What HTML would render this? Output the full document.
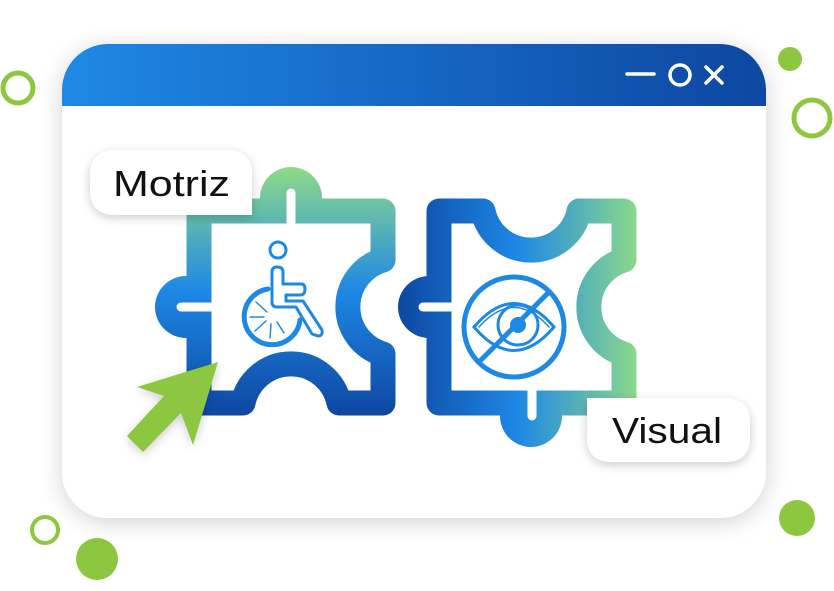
<!DOCTYPE html>
<html><head><meta charset="utf-8"><style>
html,body{margin:0;padding:0;background:#fff;width:834px;height:591px;overflow:hidden;font-family:"Liberation Sans",sans-serif}
</style></head><body>
<svg width="834" height="591" viewBox="0 0 834 591" xmlns="http://www.w3.org/2000/svg">
<defs>
<filter id="sh" x="-20%" y="-20%" width="140%" height="140%"><feGaussianBlur in="SourceAlpha" stdDeviation="12"/><feOffset dx="0" dy="4"/><feComponentTransfer><feFuncA type="linear" slope="0.18"/></feComponentTransfer><feMerge><feMergeNode/><feMergeNode in="SourceGraphic"/></feMerge></filter>
<filter id="sh2" x="-30%" y="-30%" width="160%" height="160%"><feGaussianBlur in="SourceAlpha" stdDeviation="5"/><feOffset dx="0" dy="3"/><feComponentTransfer><feFuncA type="linear" slope="0.2"/></feComponentTransfer><feMerge><feMergeNode/><feMergeNode in="SourceGraphic"/></feMerge></filter>
<linearGradient id="tb" x1="0" x2="1" y1="0" y2="0"><stop offset="0" stop-color="#1e88e5"/><stop offset="1" stop-color="#0d47a1"/></linearGradient>
<linearGradient id="gl" gradientUnits="userSpaceOnUse" x1="0" y1="167" x2="0" y2="415"><stop offset="0" stop-color="#8edb88"/><stop offset="0.5" stop-color="#1e88e5"/><stop offset="1" stop-color="#0d47a1"/></linearGradient>
<linearGradient id="gr" gradientUnits="userSpaceOnUse" x1="397" y1="0" x2="640" y2="0"><stop offset="0" stop-color="#0d47a1"/><stop offset="0.5" stop-color="#1e88e5"/><stop offset="1" stop-color="#8edb88"/></linearGradient>
<clipPath id="win"><rect x="62" y="44" width="704" height="474" rx="46"/></clipPath>
</defs>

<circle cx="18" cy="88" r="15" fill="none" stroke="#8dc63f" stroke-width="5"/>
<circle cx="790" cy="59" r="12" fill="#8dc63f"/>
<circle cx="812" cy="118" r="18" fill="none" stroke="#8dc63f" stroke-width="5"/>
<circle cx="45" cy="530" r="13" fill="none" stroke="#8dc63f" stroke-width="4"/>
<circle cx="97" cy="559" r="21" fill="#8dc63f"/>
<circle cx="797" cy="518" r="18" fill="#8dc63f"/>

<rect x="62" y="44" width="704" height="474" rx="46" fill="#fff" filter="url(#sh)"/>
<rect x="62" y="44" width="704" height="62" fill="url(#tb)" clip-path="url(#win)"/>
<line x1="627" y1="74" x2="654" y2="74" stroke="#fff" stroke-width="3.5" stroke-linecap="round"/>
<circle cx="680" cy="75" r="10" fill="none" stroke="#fff" stroke-width="3.5"/>
<path d="M706,67 L722,83 M722,67 L706,83" stroke="#fff" stroke-width="3.5" stroke-linecap="round"/>

<!-- left puzzle -->
<circle cx="291" cy="198" r="31" fill="url(#gl)"/>
<circle cx="186" cy="307" r="31" fill="url(#gl)"/>
<path d="M199,211 H383 V260 A49 49 0 0 0 383,354 V403 H339 A49 49 0 0 0 243,403 H199 Z" fill="#fff" stroke="url(#gl)" stroke-width="25" stroke-linejoin="round"/>
<line x1="291" y1="193" x2="291" y2="224" stroke="#fff" stroke-width="9" stroke-linecap="round"/>
<line x1="181" y1="307" x2="211" y2="307" stroke="#fff" stroke-width="9" stroke-linecap="round"/>

<!-- wheelchair -->
<g fill="none" stroke="#1e88e5" stroke-width="3" stroke-linejoin="round" stroke-linecap="round">
<circle cx="278" cy="250" r="8"/>
<path d="M272,300 V272 Q272,267 277,267 Q283,267 283,272 V284 H301 Q305,284 305,289 Q305,295 300,295 H286 V301 H303 L322,330 Q323,336 318,336 L312,334 L296,307 H277 Q272,307 272,302 Z"/>
<path d="M268,289 A28 28 0 1 0 300,320" stroke-width="5"/>
<path d="M256,302 L267,312 M250,317 L264,317 M255,331 L266,321 M270,338 L271,324 M284,333 L277,322" stroke-width="1.5"/>
</g>

<!-- right puzzle -->
<circle cx="429" cy="307" r="31" fill="url(#gr)"/>
<circle cx="531" cy="416" r="31" fill="url(#gr)"/>
<path d="M439,211 H483 A49 49 0 0 0 579,211 H624 V260 A49 49 0 0 0 624,354 V403 H439 Z" fill="#fff" stroke="url(#gr)" stroke-width="25" stroke-linejoin="round"/>
<line x1="423" y1="307" x2="451" y2="307" stroke="#fff" stroke-width="9" stroke-linecap="round"/>
<line x1="532" y1="390" x2="532" y2="416" stroke="#fff" stroke-width="9" stroke-linecap="round"/>

<!-- eye icon -->
<g fill="none" stroke="#1e88e5" stroke-linecap="round">
<circle cx="514" cy="327" r="50" stroke-width="5"/>
<path d="M474,327 Q514,280 554,327 Q514,374 474,327 Z" stroke-width="3"/>
<path d="M479,327 Q514,288 549,327" stroke-width="1.5"/>
<circle cx="518" cy="325" r="20" stroke-width="3"/>
<circle cx="518" cy="325" r="8" fill="#1e88e5" stroke="none"/>
<line x1="480" y1="361" x2="548" y2="293" stroke-width="5"/>
</g>

<g filter="url(#sh2)">
<path d="M116,150 H227 Q252,150 252,175 V215 H116 Q90,215 90,190 V176 Q90,150 116,150 Z" fill="#fff"/>
<path d="M612,398 H725 Q750,398 750,423 V437 Q750,462 725,462 H612 Q587,462 587,437 V398 Z" fill="#fff"/>
</g>
<text x="113" y="196" font-family="Liberation Sans, sans-serif" font-size="36" fill="#111" textLength="117" lengthAdjust="spacingAndGlyphs">Motriz</text>
<text x="612" y="443" font-family="Liberation Sans, sans-serif" font-size="36" fill="#111" textLength="110" lengthAdjust="spacingAndGlyphs">Visual</text>

<polygon points="218,362 137,387 164,396 127,436 143,452 181,413 193,445" fill="#8dc63f" filter="url(#sh2)"/>
</svg>
</body></html>
